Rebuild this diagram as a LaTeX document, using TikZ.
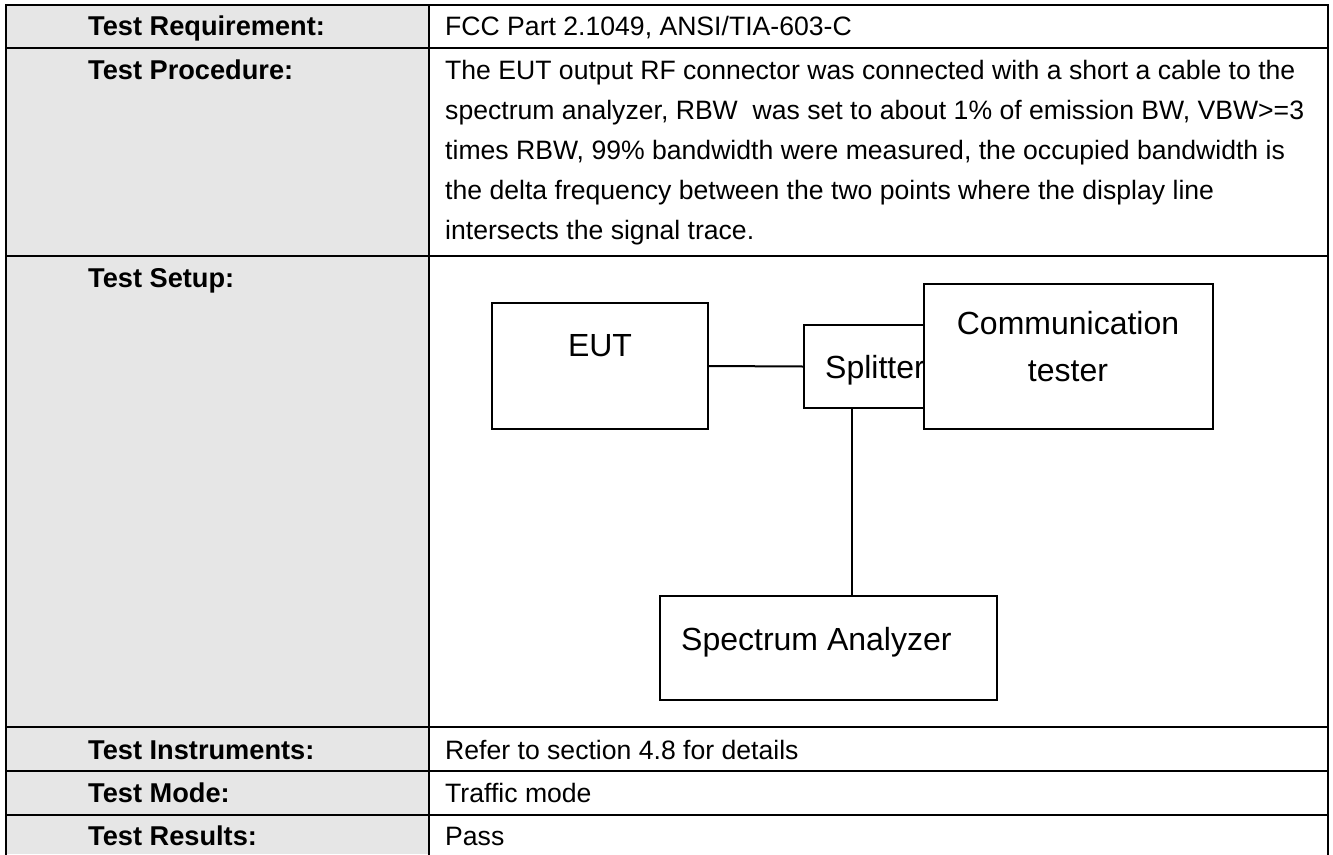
\documentclass[tikz,border=0pt]{standalone}
\usepackage{fontspec}
\setmainfont{Liberation Sans}
\definecolor{cellgrey}{HTML}{E6E6E6}
\begin{document}
\begin{tikzpicture}[x=1pt,y=-1pt,
  tline/.style={line width=2.6pt, line cap=rect},
  lbl/.style={anchor=base west, inner sep=0pt, font=\fontsize{27.2}{30}\selectfont\bfseries},
  txt/.style={anchor=base west, inner sep=0pt, font=\fontsize{26.6}{30}\selectfont},
  dbox/.style={draw, line width=2pt, inner sep=0pt, rectangle},
  dtxt/.style={anchor=base, inner sep=0pt, font=\fontsize{32}{36}\selectfont},
  conn/.style={line width=2pt}
]
\useasboundingbox (0,0) rectangle (1333,854);
% left column shading
\fill[cellgrey] (6,5) rectangle (429,854);
% table grid
\foreach \yy in {5,48,256,727,771,815}{\draw[tline] (6,\yy) -- (1328,\yy);}
\foreach \xx in {6,429,1328}{\draw[tline] (\xx,5) -- (\xx,854);}
% left column labels
\node[lbl] (l1) at (88,35) {Test Requirement:};
\node[lbl] (l2) at (88,79) {Test Procedure:};
\node[lbl] (l3) at (88,287) {Test Setup:};
\node[lbl] (l4) at (88,759) {Test Instruments:};
\node[lbl] (l5) at (88,802) {Test Mode:};
\node[lbl] (l6) at (88,845) {Test Results:};
% right column texts
\node[txt] (r1) at (445,35) {FCC Part 2.1049, ANSI/TIA-603-C};
\node[txt] (p1) at (445,79) {The EUT output RF connector was connected with a short a cable to the};
\node[txt] (p2) at (445,119) {spectrum analyzer, RBW\ \ was set to about 1\% of emission BW, VBW>=3};
\node[txt] (p3) at (445,159) {times RBW, 99\% bandwidth were measured, the occupied bandwidth is};
\node[txt] (p4) at (445,199) {the delta frequency between the two points where the display line};
\node[txt] (p5) at (445,239) {intersects the signal trace.};
\node[txt] (r4) at (445,759) {Refer to section 4.8 for details};
\node[txt] (r5) at (445,802) {Traffic mode};
\node[txt] (r6) at (445,845) {Pass};
% setup diagram boxes
\node[dbox, minimum width=216pt, minimum height=126pt] (eut) at (600,366) {};
\node[dbox, minimum width=120pt, minimum height=83pt] (spl) at (864,366.5) {};
\node[dbox, minimum width=289pt, minimum height=145pt, fill=white] (ct) at (1068.5,356.5) {};
\node[dbox, minimum width=337pt, minimum height=104pt] (sa) at (828.5,648) {};
% box texts
\node[dtxt] (teut) at (600,356) {EUT};
\node[dtxt, anchor=base west] (tspl) at (825,378) {Splitter};
\node[dtxt] (tct1) at (1068,334) {Communication};
\node[dtxt] (tct2) at (1068,381) {tester};
\node[dtxt, anchor=base west] (tsa) at (681,650) {Spectrum Analyzer};
% connectors
\draw[conn] (eut.east) -- (spl.west);
\draw[conn] ([xshift=-12pt]spl.south) -- ([xshift=-12pt]spl.south |- sa.north);
\end{tikzpicture}
\end{document}
